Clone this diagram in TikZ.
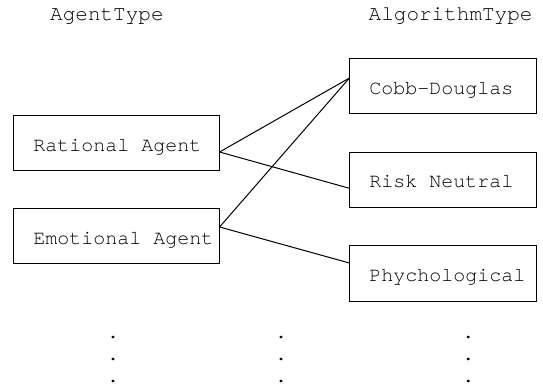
\documentclass[tikz,border=0pt]{standalone}
\usepackage{fontspec}
\setmonofont{TeX Gyre Cursor}
\newcommand\monogap{\hspace{12pt}}
\usetikzlibrary{calc}
\begin{document}
\begin{tikzpicture}[x=1pt,y=-1pt,
  every node/.style={font=\ttfamily\fontsize{20}{24}\selectfont},
  title/.style={font=\ttfamily\fontsize{21}{25}\selectfont,inner sep=0pt,anchor=base west},
  box/.style={draw,line width=1pt,rectangle,inner xsep=0pt,inner ysep=0pt,
    align=left,text height=16pt,text depth=0pt,minimum height=55.5pt},
  agent/.style={box,text width=205.7pt},
  algo/.style={box,text width=186.5pt},
  link/.style={draw,line width=1pt},
  dotmark/.style={inner sep=0pt,anchor=base}]
\useasboundingbox (0,0) rectangle (543,389);
\node[title] (t1) at (50,20) {AgentType};
\node[title] (t2) at (368.5,20) {AlgorithmType};
\node[agent] (r) at (116.2,143) {\hspace*{20pt}Rational\monogap Agent};
\node[agent] (e) at (116.2,236) {\hspace*{20pt}Emotional\monogap Agent};
\node[algo] (c) at (443.2,86) {\hspace*{19.5pt}Cobb-Douglas};
\node[algo] (n) at (443.2,179.8) {\hspace*{19.5pt}Risk\monogap Neutral};
\node[algo] (p) at (443.2,273.5) {\hspace*{19.5pt}Phychological};
\coordinate (rA) at ($(r.east)+(0,9)$);
\coordinate (eA) at ($(e.east)+(0,-9)$);
\coordinate (cA) at ($(c.west)+(0,-8)$);
\coordinate (nA) at ($(n.west)+(0,8.5)$);
\coordinate (pA) at ($(p.west)+(0,-10.5)$);
\path[link] (rA) -- (cA);
\path[link] (rA) -- (nA);
\path[link] (eA) -- (cA);
\path[link] (eA) -- (pA);
\foreach \x/\k in {113/a,281/b,468.3/c}{
  \foreach \y/\j in {337/1,359/2,381/3}{
    \node[dotmark] (d\k\j) at (\x,\y+1.5) {.};
  }
}
\end{tikzpicture}
\end{document}
